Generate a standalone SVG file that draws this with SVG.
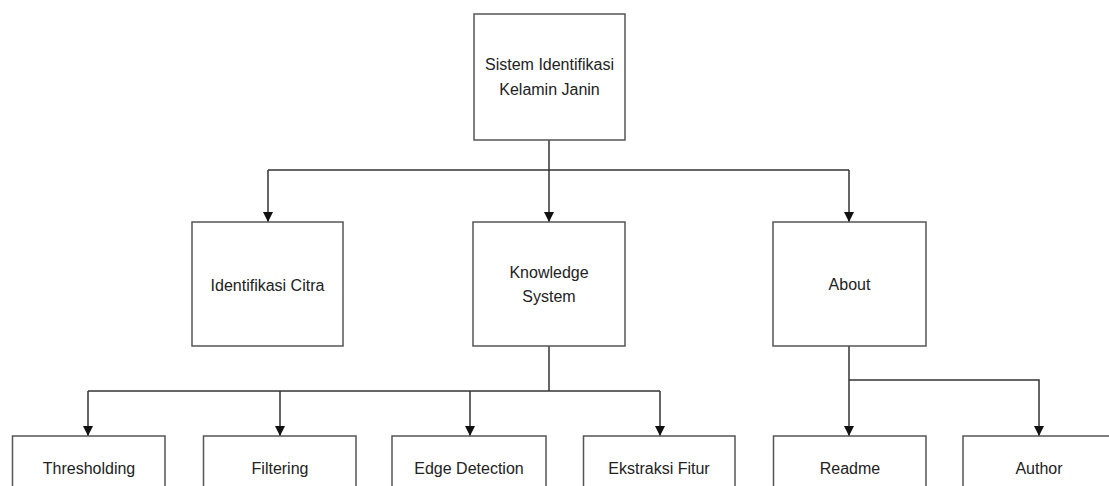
<svg xmlns="http://www.w3.org/2000/svg" width="1109" height="486" viewBox="0 0 1109 486">
<defs>
<marker id="arr" markerWidth="10" markerHeight="10" refX="10" refY="5" orient="auto" markerUnits="userSpaceOnUse">
<path d="M0,0 L10,5 L0,10 Z" fill="#111"/>
</marker>
<style>
.box{fill:#fff;stroke:#555;stroke-width:1.5}
.lbl{font-family:"Liberation Sans",Arial,sans-serif;font-size:16px;fill:#222;text-anchor:middle;dominant-baseline:central}
.ln{fill:none;stroke:#333;stroke-width:1.5}
</style>
</defs>
<rect width="1109" height="486" fill="#fff"/>
<g id="connectors">
<path class="ln" d="M549,140 V170"/>
<path class="ln" d="M268,170 H849"/>
<path class="ln" d="M268,170 V222" marker-end="url(#arr)"/>
<path class="ln" d="M549,170 V222" marker-end="url(#arr)"/>
<path class="ln" d="M849,170 V222" marker-end="url(#arr)"/>
<path class="ln" d="M549,346 V391"/>
<path class="ln" d="M88,391 H660"/>
<path class="ln" d="M88,391 V436" marker-end="url(#arr)"/>
<path class="ln" d="M280,391 V436" marker-end="url(#arr)"/>
<path class="ln" d="M470,391 V436" marker-end="url(#arr)"/>
<path class="ln" d="M660,391 V436" marker-end="url(#arr)"/>
<path class="ln" d="M849,346 V436" marker-end="url(#arr)"/>
<path class="ln" d="M849,380 H1039 V436" marker-end="url(#arr)"/>
</g>
<g id="root">
<rect class="box" x="474" y="14" width="151" height="126"/>
<text class="lbl" x="549.5" y="64">Sistem Identifikasi</text>
<text class="lbl" x="549.5" y="89">Kelamin Janin</text>
</g>
<g id="identifikasi">
<rect class="box" x="192" y="222" width="151" height="124"/>
<text class="lbl" x="267.5" y="285">Identifikasi Citra</text>
</g>
<g id="knowledge">
<rect class="box" x="473" y="222" width="152" height="124"/>
<text class="lbl" x="549" y="272">Knowledge</text>
<text class="lbl" x="549" y="296">System</text>
</g>
<g id="about">
<rect class="box" x="773" y="222" width="153" height="124"/>
<text class="lbl" x="849.5" y="284">About</text>
</g>
<g id="thresholding">
<rect class="box" x="12.5" y="436" width="152.5" height="70"/>
<text class="lbl" x="89" y="468">Thresholding</text>
</g>
<g id="filtering">
<rect class="box" x="203.5" y="436" width="152.5" height="70"/>
<text class="lbl" x="280" y="468">Filtering</text>
</g>
<g id="edge">
<rect class="box" x="392" y="436" width="154" height="70"/>
<text class="lbl" x="469" y="468">Edge Detection</text>
</g>
<g id="ekstraksi">
<rect class="box" x="583.5" y="436" width="151.5" height="70"/>
<text class="lbl" x="659" y="468">Ekstraksi Fitur</text>
</g>
<g id="readme">
<rect class="box" x="773.5" y="436" width="152.5" height="70"/>
<text class="lbl" x="850" y="468">Readme</text>
</g>
<g id="author">
<rect class="box" x="963" y="436" width="153" height="70"/>
<text class="lbl" x="1039" y="468">Author</text>
</g>
</svg>
